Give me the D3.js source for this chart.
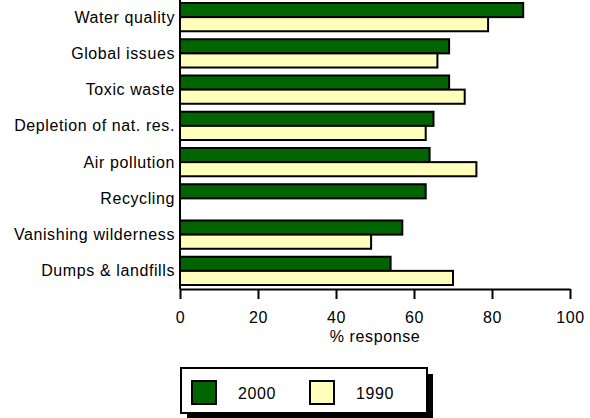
<!DOCTYPE html>
<html>
<head>
<meta charset="utf-8">
<script src="https://cdn.jsdelivr.net/npm/d3@7"></script>
<style>
  html, body { margin: 0; padding: 0; background: #fff; }
  svg { display: block; }
  text { font-family: "Liberation Sans", Arial, sans-serif; fill: #000; letter-spacing: 0.6px; }
</style>
</head>
<body>
<svg id="chart" width="590" height="418"></svg>
<script>
// Environmental concerns, % response by survey year
const categories = [
  "Water quality", "Global issues", "Toxic waste", "Depletion of nat. res.",
  "Air pollution", "Recycling", "Vanishing wilderness", "Dumps & landfills"
];
const seriesNames = ["2000", "1990"];
const values2000 = [88, 69, 69, 65, 64, 63, 57, 54];
const values1990 = [79, 66, 73, 63, 76, null, 49, 70];
const xTicks = [0, 20, 40, 60, 80, 100];
const seriesColors = ["#006400", "#FFFFBB"];

const svg = d3.select("#chart");
const plot = { left: 180, right: 570, top: -1, bottom: 289 };
const fontSize = 16;

const x = d3.scaleLinear().domain([0, 100]).range([plot.left, plot.right]);
const y = d3.scaleBand().domain(categories).range([plot.top, plot.bottom])
  .paddingInner(0.22).paddingOuter(0.11);
const ySub = d3.scaleBand().domain(seriesNames).range([0, y.bandwidth()]);
const color = d3.scaleOrdinal().domain(seriesNames).range(seriesColors);

const rows = categories.map((c, i) => ({
  category: c,
  values: [
    { series: "2000", value: values2000[i] },
    { series: "1990", value: values1990[i] }
  ]
}));

// bars
const groups = svg.append("g").selectAll("g").data(rows).join("g")
  .attr("transform", d => `translate(0,${y(d.category)})`);
groups.selectAll("rect")
  .data(d => d.values.filter(v => v.value != null))
  .join("rect")
  .attr("x", x(0))
  .attr("y", d => ySub(d.series))
  .attr("width", d => x(d.value) - x(0))
  .attr("height", ySub.bandwidth())
  .attr("fill", d => color(d.series))
  .attr("stroke", "#000")
  .attr("stroke-width", 2);

// category labels
svg.append("g").selectAll("text").data(categories).join("text")
  .attr("x", plot.left - 5)
  .attr("y", d => y(d) + y.bandwidth() / 2)
  .attr("dy", "0.34em")
  .attr("text-anchor", "end")
  .attr("font-size", fontSize)
  .text(d => d);

// vertical axis line
svg.append("line")
  .attr("x1", plot.left).attr("x2", plot.left)
  .attr("y1", 0).attr("y2", plot.bottom)
  .attr("stroke", "#000").attr("stroke-width", 2);

// x axis
const xAxis = svg.append("g")
  .attr("transform", `translate(0,${plot.bottom})`)
  .call(d3.axisBottom(x).tickValues(xTicks).tickSize(10).tickSizeOuter(0).tickPadding(13));
xAxis.select(".domain").attr("stroke", "#000").attr("stroke-width", 2);
xAxis.selectAll(".tick line").attr("stroke", "#000").attr("stroke-width", 2);
xAxis.selectAll(".tick text")
  .attr("font-size", fontSize)
  .attr("font-family", "Liberation Sans, Arial, sans-serif");

svg.append("text")
  .attr("x", (plot.left + plot.right) / 2)
  .attr("y", 342)
  .attr("text-anchor", "middle")
  .attr("font-size", fontSize)
  .text("% response");

// legend with drop shadow
const lg = { x: 181, y: 368, w: 246, h: 45, shadow: 6 };
svg.append("rect")
  .attr("x", lg.x + lg.shadow).attr("y", lg.y + lg.shadow)
  .attr("width", lg.w).attr("height", lg.h)
  .attr("fill", "#000");
svg.append("rect")
  .attr("x", lg.x).attr("y", lg.y)
  .attr("width", lg.w).attr("height", lg.h)
  .attr("fill", "#fff").attr("stroke", "#000").attr("stroke-width", 2);

const legendItems = svg.append("g").selectAll("g").data(seriesNames).join("g")
  .attr("transform", (d, i) => `translate(${192 + i * 118},381)`);
legendItems.append("rect")
  .attr("width", 24).attr("height", 23)
  .attr("fill", d => color(d))
  .attr("stroke", "#000").attr("stroke-width", 2);
legendItems.append("text")
  .attr("x", 46).attr("y", 12)
  .attr("dy", "0.37em")
  .attr("font-size", fontSize)
  .text(d => d);
</script>
</body>
</html>
